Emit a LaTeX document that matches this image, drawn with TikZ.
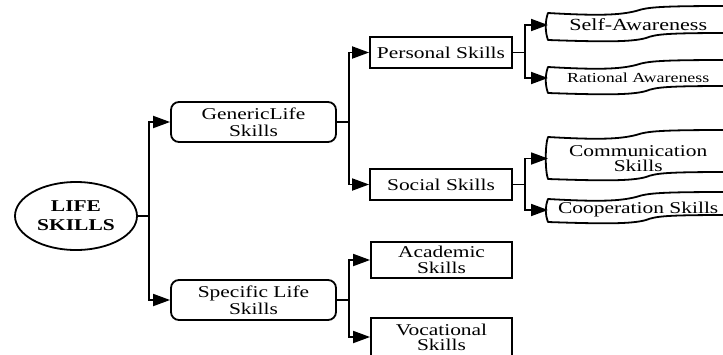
\documentclass[tikz,border=0pt]{standalone}
\usepackage{fontspec}
\setmainfont{Liberation Serif}[FakeStretch=1.3]
\usetikzlibrary{arrows.meta, shapes.geometric}

\tikzset{
  conn/.style={line width=1.8pt, draw=black},
  arr/.style={conn, -{Triangle[length=17pt,width=12pt]}},
  squarebox/.style={draw, line width=1.8pt, rectangle, inner sep=0pt, align=center,
    font=\fontsize{16.5}{16}\selectfont},
  roundbox/.style={squarebox, rounded corners=8pt, font=\fontsize{16.5}{17}\selectfont},
  bannertext/.style={inner sep=0pt, minimum width=180pt, anchor=west, align=center,
    font=\fontsize{16.5}{16}\selectfont},
  bannerline/.style={line width=1.8pt, line join=round},
}

% wavy flag outline, open on the right; #1 = top y, #2 = bottom y at the left edge
\newcommand{\bannerframe}[2]{%
  \draw[bannerline] (730,#1-7) .. controls (660,#1-7) and (648,#1-6) .. (636,#1-2)
    .. controls (620,#1+2) and (600,#1+3) .. (548,#1)
    .. controls (545,#1+8) and (545,#2-8) .. (548,#2)
    .. controls (605,#2+2) and (632,#2+2) .. (646,#2-2)
    .. controls (656,#2-6) and (668,#2-7) .. (730,#2-7);
}

\begin{document}
\begin{tikzpicture}[x=1pt,y=-1pt]
  \useasboundingbox (0,0) rectangle (723,354);
  \clip (0,0) rectangle (723,354);

  % root
  \node[draw, ellipse, line width=1.8pt, minimum width=122pt, minimum height=68pt,
        inner sep=0pt, align=center, font=\bfseries\fontsize{16.5}{19}\selectfont]
        (life) at (76,216) {LIFE\\SKILLS};

  % second level
  \node[roundbox, minimum width=165pt, minimum height=40pt] (generic) at (253.5,122) {GenericLife\\Skills};
  \node[roundbox, minimum width=165pt, minimum height=40pt] (specific) at (253.5,300) {Specific Life\\Skills};

  % third level
  \node[squarebox, minimum width=142pt, minimum height=31pt] (personal) at (441,52.5) {Personal Skills};
  \node[squarebox, minimum width=142pt, minimum height=31pt] (social) at (441,184.5) {Social Skills};
  \node[squarebox, minimum width=141pt, minimum height=36pt] (academic) at (441.5,260) {Academic\\Skills};
  \node[squarebox, minimum width=141pt, minimum height=38pt, font=\fontsize{16.5}{15}\selectfont]
        (vocational) at (441.5,337) {Vocational\\Skills};

  % leaves
  \bannerframe{13}{40}
  \node[bannertext, font=\fontsize{17}{17}\selectfont] (selfaw) at (548,25) {Self-Awareness};
  \bannerframe{67}{93}
  \node[bannertext, font=\fontsize{13.8}{14}\selectfont] (rational) at (548,78) {Rational Awareness};
  \bannerframe{137}{179}
  \node[bannertext, font=\fontsize{16.5}{15}\selectfont] (commun) at (548,158.5) {Communication\\Skills};
  \bannerframe{199}{222}
  \node[bannertext] (cooper) at (548,210) {Cooperation Skills};

  % branch points
  \coordinate (j1) at (149,216);
  \coordinate (j2) at (349,122);
  \coordinate (j3) at (349,300);
  \coordinate (j4) at (525,52.5);
  \coordinate (j5) at (525,184.5);

  % connectors
  \draw[conn] (life.east) -- (j1);
  \draw[arr] (j1) |- (generic.west);
  \draw[arr] (j1) |- (specific.west);

  \draw[conn] (generic.east) -- (j2);
  \draw[arr] (j2) |- (personal.west);
  \draw[arr] (j2) |- (social.west);

  \draw[conn] (specific.east) -- (j3);
  \draw[arr] (j3) |- (academic.west);
  \draw[arr] (j3) |- (vocational.west);

  \draw[conn] (personal.east) -- (j4);
  \draw[arr] (j4) |- (selfaw.west);
  \draw[arr] (j4) |- (rational.west);

  \draw[conn] (social.east) -- (j5);
  \draw[arr] (j5) |- (commun.west);
  \draw[arr] (j5) |- (cooper.west);
\end{tikzpicture}
\end{document}
